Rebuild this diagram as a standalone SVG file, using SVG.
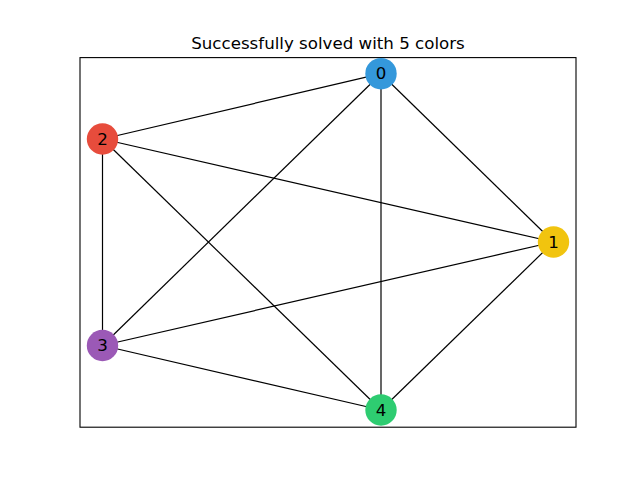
<svg xmlns="http://www.w3.org/2000/svg" width="640" height="480" viewBox="0 0 640 480">
<style>
.edge{stroke:#000;stroke-width:1.2;fill:none}
.node circle{stroke:none}
.lbl{font-family:"DejaVu Sans",sans-serif;font-size:16.67px;fill:#000;text-anchor:middle;dominant-baseline:central}
.title{font-family:"DejaVu Sans",sans-serif;font-size:16.67px;fill:#000;text-anchor:middle}
</style>
<rect width="640" height="480" fill="#fff"/>
<rect x="80" y="57.6" width="496" height="369.6" fill="none" stroke="#000" stroke-width="1.1"/>
<text class="title" x="328" y="49">Successfully solved with 5 colors</text>
<g id="edges">
<line class="edge" x1="381" y1="73.7" x2="553.5" y2="242"/>
<line class="edge" x1="381" y1="73.7" x2="102.5" y2="139"/>
<line class="edge" x1="381" y1="73.7" x2="102.5" y2="345.5"/>
<line class="edge" x1="381" y1="73.7" x2="381" y2="410"/>
<line class="edge" x1="553.5" y1="242" x2="102.5" y2="139"/>
<line class="edge" x1="553.5" y1="242" x2="102.5" y2="345.5"/>
<line class="edge" x1="553.5" y1="242" x2="381" y2="410"/>
<line class="edge" x1="102.5" y1="139" x2="102.5" y2="345.5"/>
<line class="edge" x1="102.5" y1="139" x2="381" y2="410"/>
<line class="edge" x1="102.5" y1="345.5" x2="381" y2="410"/>
</g>
<g id="node0" class="node"><circle cx="381" cy="73.7" r="15.7" fill="#3498db"/><text class="lbl" x="381" y="73.7">0</text></g>
<g id="node1" class="node"><circle cx="553.5" cy="242" r="15.7" fill="#f1c40f"/><text class="lbl" x="553.5" y="242">1</text></g>
<g id="node2" class="node"><circle cx="102.5" cy="139" r="15.7" fill="#e74c3c"/><text class="lbl" x="102.5" y="139">2</text></g>
<g id="node3" class="node"><circle cx="102.5" cy="345.5" r="15.7" fill="#9b59b6"/><text class="lbl" x="102.5" y="345.5">3</text></g>
<g id="node4" class="node"><circle cx="381" cy="410" r="15.7" fill="#2ecc71"/><text class="lbl" x="381" y="410">4</text></g>
</svg>
